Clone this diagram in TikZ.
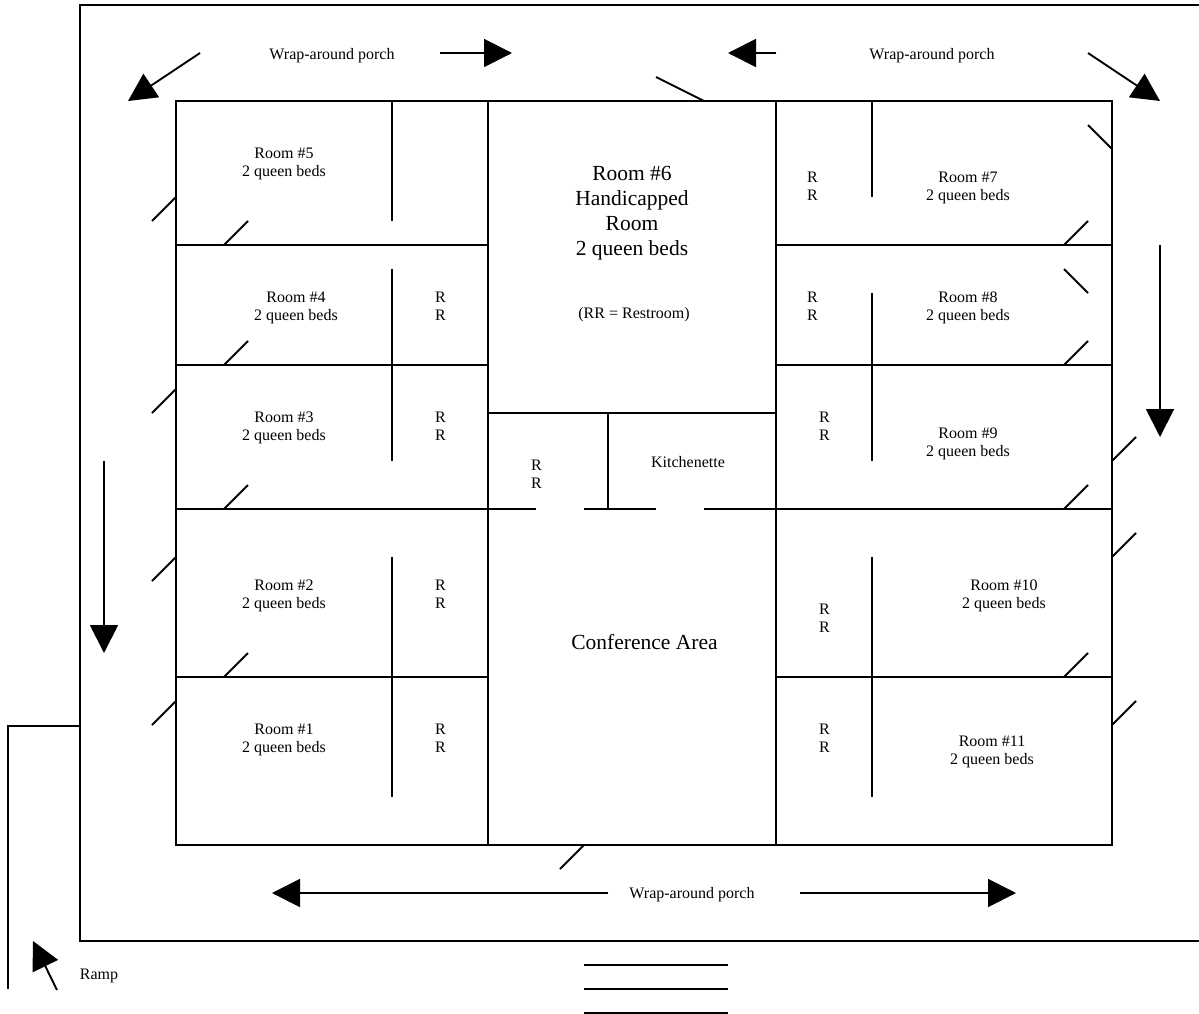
\documentclass[tikz,border=0pt]{standalone}
\usepackage{fontspec}
\setmainfont{Liberation Serif}
\usetikzlibrary{arrows.meta}
\tikzset{
  wall/.style={line width=1.9pt,line cap=butt},
  flow/.style={line width=1.9pt,-{Triangle[length=28pt,width=28pt]}},
  lbl/.style={font=\fontsize{16}{18}\selectfont,align=center,inner sep=0pt},
  big/.style={font=\fontsize{21.5}{25}\selectfont,align=center,inner sep=0pt}
}
\begin{document}
\begin{tikzpicture}[x=1pt,y=-1pt]
\useasboundingbox (0,0) rectangle (1199,1014);
% porch and ramp
\draw[wall] (1199,5) -- (80,5) -- (80,941) -- (1199,941);
\draw[wall] (80,726) -- (8,726) -- (8,989);
% building
\draw[wall] (176,101) rectangle (1112,845);
\foreach \x in {488,776} \draw[wall] (\x,101) -- (\x,845);
\foreach \y in {245,365,509,677} {
  \draw[wall] (176,\y) -- (488,\y);
  \draw[wall] (776,\y) -- (1112,\y);
}
% room partitions
\draw[wall] (392,101) -- (392,221);
\draw[wall] (392,269) -- (392,461);
\draw[wall] (392,557) -- (392,797);
\draw[wall] (872,101) -- (872,197);
\draw[wall] (872,293) -- (872,461);
\draw[wall] (872,557) -- (872,797);
% centre
\draw[wall] (488,413) -- (776,413);
\draw[wall] (608,413) -- (608,509);
\draw[wall] (488,509) -- (536,509);
\draw[wall] (584,509) -- (656,509);
\draw[wall] (704,509) -- (776,509);
% doors
\foreach \a/\b/\c/\d in {152/221/176/197,224/245/248/221,224/365/248/341,152/413/176/389,224/509/248/485,152/581/176/557,224/677/248/653,152/725/176/701,1064/245/1088/221,1064/365/1088/341,1064/509/1088/485,1064/677/1088/653,1112/461/1136/437,1112/557/1136/533,1112/725/1136/701,1088/125/1112/149,1064/269/1088/293,656/77/704/101,560/869/584/845}
  \draw[wall] (\a,\b) -- (\c,\d);
% stairs
\foreach \y in {965,989,1013} \draw[wall] (584,\y) -- (728,\y);
% arrows
\draw[flow] (200,53) -- (128,101);
\draw[flow] (440,53) -- (512,53);
\draw[flow] (776,53) -- (728,53);
\draw[flow] (1088,53) -- (1160,101);
\draw[flow] (1160,245) -- (1160,437);
\draw[flow] (104,461) -- (104,653);
\draw[flow] (608,893) -- (272,893);
\draw[flow] (800,893) -- (1016,893);
\draw[flow] (57,990) -- (33,941);
% labels
\node[lbl] (p1) at (332,56) {Wrap-around porch};
\node[lbl] (p2) at (932,56) {Wrap-around porch};
\node[lbl] (p3) at (692,895) {Wrap-around porch};
\node[lbl] (ramp) at (99,976) {Ramp};
\node[lbl] (r5) at (284,164) {Room \#5\\2 queen beds};
\node[lbl] (r4) at (296,308) {Room \#4\\2 queen beds};
\node[lbl] (r3) at (284,428) {Room \#3\\2 queen beds};
\node[lbl] (r2) at (284,596) {Room \#2\\2 queen beds};
\node[lbl] (r1) at (284,740) {Room \#1\\2 queen beds};
\node[lbl] (r7) at (968,188) {Room \#7\\2 queen beds};
\node[lbl] (r8) at (968,308) {Room \#8\\2 queen beds};
\node[lbl] (r9) at (968,444) {Room \#9\\2 queen beds};
\node[lbl] (r10) at (1004,596) {Room \#10\\2 queen beds};
\node[lbl] (r11) at (992,752) {Room \#11\\2 queen beds};
\node[big] (r6) at (632,213) {Room \#6\\Handicapped\\Room\\2 queen beds};
\node[lbl] (rr) at (634,315) {(RR = Restroom)};
\node[lbl] (k) at (688,462) {Kitchenette};
\node[big] (c) at (644.5,642) {Conference Area};
\foreach \x/\y in {440.5/306,440.5/426,440.5/594,440.5/738,536.5/474,812.5/186,812.5/306,824.5/426,824.5/618,824.5/738}
  \node[lbl] at (\x,\y) {R\\R};
\end{tikzpicture}
\end{document}
